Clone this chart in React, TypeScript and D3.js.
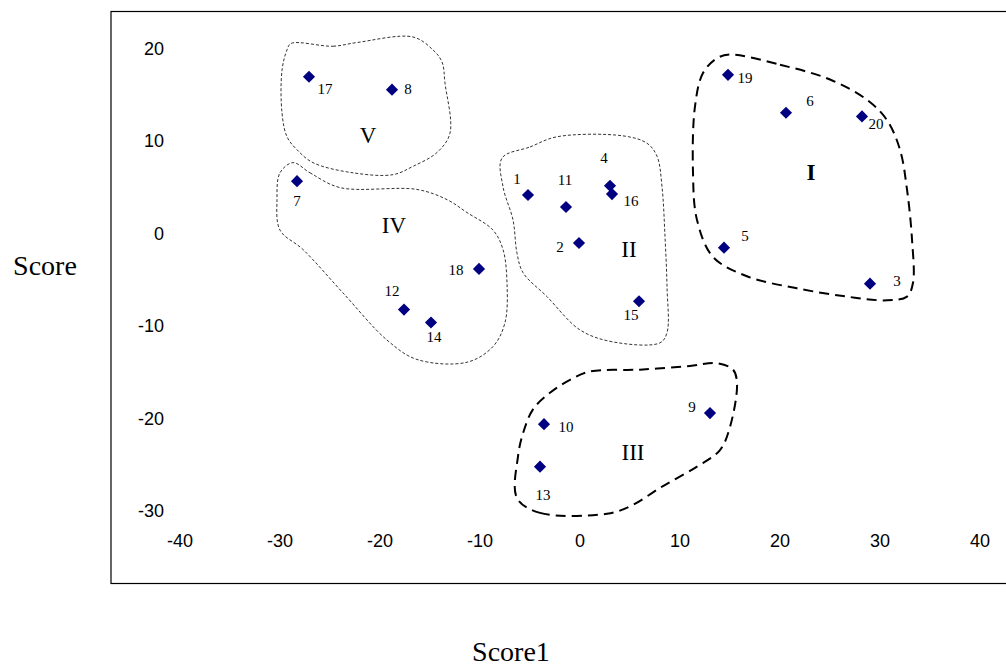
import * as d3 from "d3";

// sample ids and their scores
const ids = [17, 8, 7, 18, 12, 14, 1, 11, 4, 16, 2, 15, 19, 6, 20, 5, 3, 9, 10, 13];
const score1 = [-27.1, -18.8, -28.3, -10.1, -17.6, -14.9, -5.2, -1.4, 3.0, 3.2, -0.1, 5.9, 14.8, 20.6, 28.2, 14.4, 29.0, 13.0, -3.6, -4.0];
const score2 = [17.0, 15.6, 5.7, -3.8, -8.2, -9.6, 4.2, 2.9, 5.2, 4.3, -1.0, -7.3, 17.2, 13.1, 12.7, -1.5, -5.4, -19.4, -20.6, -25.2];

const xTicks = [-40, -30, -20, -10, 0, 10, 20, 30, 40];
const yTicks = [20, 10, 0, -10, -20, -30];

// cluster names and their centres
const clusterNames = ["I", "II", "III", "IV", "V"];
const clusterX = [23.1, 4.9, 5.3, -18.6, -21.2];
const clusterY = [6.6, -1.7, -23.7, 0.9, 10.6];

// hand drawn outlines around the clusters (score1, score2)
const outlineI = [
  [15.0, 19.4], [20.0, 18.3], [25.0, 16.7], [28.7, 14.5], [30.7, 12.3], [32.0, 9.1],
  [32.7, 4.8], [33.2, -0.6], [33.3, -5.3], [32.7, -6.8], [30.7, -7.2], [26.7, -6.8],
  [21.7, -5.9], [16.7, -4.6], [13.3, -2.5], [11.7, 1.5], [11.3, 6.6], [11.5, 13.8],
  [12.3, 17.4], [13.7, 19.0],
];
const outlineII = [
  [-7.8, 8.2], [-5.0, 9.4], [-2.3, 10.5], [4.3, 10.6], [6.7, 9.8], [7.7, 8.4],
  [8.2, 5.1], [8.5, -0.3], [8.7, -5.7], [8.7, -10.7], [8.0, -11.8], [3.3, -11.7],
  [0.0, -10.4], [-3.3, -6.8], [-5.7, -4.2], [-6.3, -2.1], [-6.7, 1.5], [-7.7, 5.1],
];
const outlineIII = [
  [-6.3, -28.6], [-4.0, -30.2], [2.7, -30.3], [5.0, -29.5], [8.3, -27.3], [11.7, -25.2],
  [14.0, -23.4], [15.0, -20.9], [15.7, -16.2], [15.3, -14.7], [13.7, -14.0], [11.0, -14.3],
  [6.0, -14.7], [1.0, -14.9], [-1.0, -15.8], [-3.0, -17.2], [-4.7, -19.0], [-5.7, -21.6],
  [-6.2, -24.1],
];
const outlineIV = [
  [-28.7, 7.7], [-27.0, 6.6], [-24.0, 5.0], [-16.3, 4.8], [-13.3, 3.7], [-11.3, 2.3],
  [-8.7, 0.4], [-7.7, -1.7], [-7.3, -5.3], [-7.5, -9.6], [-8.7, -12.2], [-11.3, -13.9],
  [-16.3, -13.6], [-19.3, -11.5], [-23.7, -6.4], [-27.7, -1.7], [-30.0, 0.4], [-30.3, 3.7],
  [-30.0, 6.6],
];
const outlineV = [
  [-28.9, 20.6], [-24.7, 20.3], [-22.3, 20.7], [-16.7, 21.3], [-14.7, 19.9], [-13.8, 18.6],
  [-13.5, 16.3], [-13.0, 10.9], [-14.3, 8.8], [-16.7, 7.3], [-18.7, 6.4], [-22.7, 6.6],
  [-26.7, 7.7], [-28.3, 9.1], [-29.3, 10.5], [-29.8, 13.1], [-29.8, 17.7], [-29.3, 19.9],
];

// where each point label sits relative to its marker (px)
const labelOffset: Record<number, [number, number]> = {
  17: [16, 12], 8: [16, -1], 7: [0, 20], 18: [-23, 1], 12: [-12, -19], 14: [3, 14],
  1: [-11, -16], 11: [-1, -27], 4: [-6, -28], 16: [19, 7], 2: [-19, 4], 15: [-8, 14],
  19: [17, 3], 6: [24, -12], 20: [14, 8], 5: [21, -12], 3: [27, -3], 9: [-18, -6],
  10: [22, 3], 13: [3, 28],
};

const W = 1006;
const H = 667;

export default function App() {
  const x = d3.scaleLinear().domain([-40, 40]).range([180, 980]);
  const y = d3.scaleLinear().domain([-30, 20]).range([511, 49]);

  const outline = d3
    .line<number[]>()
    .x((d) => x(d[0]))
    .y((d) => y(d[1]))
    .curve(d3.curveCatmullRomClosed.alpha(0.5));

  const diamond = d3.symbol().type(d3.symbolSquare).size(74)();

  const thin = [outlineII, outlineIV, outlineV];
  const thick = [outlineI, outlineIII];

  return (
    <svg
      width={W}
      height={H}
      style={{ position: "absolute", left: 0, top: 0, background: "#fff" }}
    >
      <rect x={111} y={11.5} width={W} height={572} fill="none" stroke="#000" strokeWidth={1.2} />

      {thin.map((o, i) => (
        <path key={"t" + i} d={outline(o) || ""} fill="none" stroke="#333" strokeWidth={1} strokeDasharray="3,2" />
      ))}
      {thick.map((o, i) => (
        <path key={"k" + i} d={outline(o) || ""} fill="none" stroke="#000" strokeWidth={2} strokeDasharray="10,6" />
      ))}

      <g fontFamily="Liberation Sans, Arial, sans-serif" fontSize={18} fill="#000">
        {yTicks.map((t) => (
          <text key={"y" + t} x={164} y={y(t)} textAnchor="end" dominantBaseline="central">
            {t}
          </text>
        ))}
        {xTicks.map((t) => (
          <text key={"x" + t} x={x(t)} y={541} textAnchor="middle" dominantBaseline="central">
            {t}
          </text>
        ))}
      </g>

      {ids.map((id, i) => (
        <path
          key={"p" + id}
          d={diamond}
          transform={`translate(${x(score1[i])},${y(score2[i])}) rotate(45)`}
          fill="#000080"
        />
      ))}

      <g fontFamily="Liberation Serif, Times New Roman, serif" fontSize={15} fill="#000">
        {ids.map((id, i) => (
          <text
            key={"l" + id}
            x={x(score1[i]) + labelOffset[id][0]}
            y={y(score2[i]) + labelOffset[id][1]}
            textAnchor="middle"
            dominantBaseline="central"
          >
            {id}
          </text>
        ))}
      </g>

      <g fontFamily="Liberation Serif, Times New Roman, serif" fontSize={23} fill="#000">
        {clusterNames.map((n, i) => (
          <text
            key={"c" + n}
            x={x(clusterX[i])}
            y={y(clusterY[i])}
            textAnchor="middle"
            dominantBaseline="central"
            fontWeight={n === "I" ? "bold" : "normal"}
          >
            {n}
          </text>
        ))}
      </g>

      <g fontFamily="Liberation Serif, Times New Roman, serif" fontSize={28} fill="#000">
        <text x={511} y={651} textAnchor="middle" dominantBaseline="central">
          Score1
        </text>
        <text x={45} y={265} textAnchor="middle" dominantBaseline="central">
          Score
        </text>
      </g>
    </svg>
  );
}
